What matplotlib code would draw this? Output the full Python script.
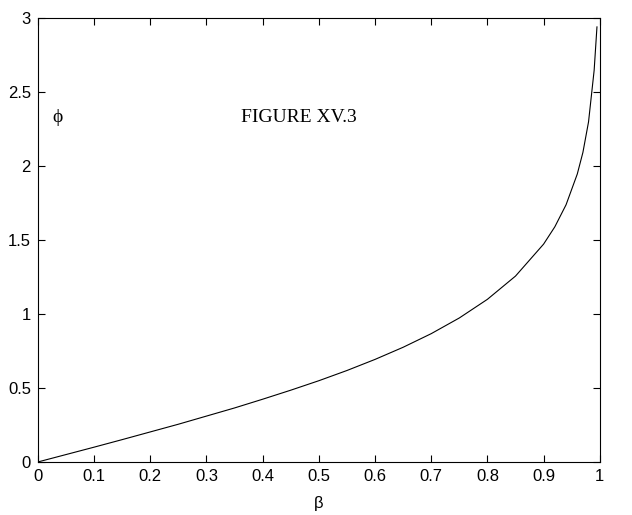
import matplotlib.pyplot as plt

# values
beta = [0, 0.05, 0.1, 0.15, 0.2, 0.25, 0.3, 0.35, 0.4, 0.45, 0.5, 0.55, 0.6,
        0.65, 0.7, 0.75, 0.8, 0.85, 0.9, 0.92, 0.94, 0.96, 0.97, 0.98, 0.99, 0.995]
phi = [0, 0.050, 0.100, 0.151, 0.203, 0.255, 0.310, 0.365, 0.424, 0.485, 0.549,
       0.618, 0.693, 0.775, 0.867, 0.973, 1.099, 1.256, 1.472, 1.589, 1.738,
       1.946, 2.092, 2.298, 2.647, 2.94]

xticks = [0, 0.1, 0.2, 0.3, 0.4, 0.5, 0.6, 0.7, 0.8, 0.9, 1]
xticklabels = ['0', '0.1', '0.2', '0.3', '0.4', '0.5', '0.6', '0.7', '0.8', '0.9', '1']
yticks = [0, 0.5, 1, 1.5, 2, 2.5, 3]
yticklabels = ['0', '0.5', '1', '1.5', '2', '2.5', '3']

fig = plt.figure(figsize=(6.32, 5.15), dpi=100)
ax = fig.add_axes([0.060, 0.103, 0.889, 0.862])
ax.plot(beta, phi, color='black', linewidth=0.8)

ax.set_xlim(0, 1)
ax.set_ylim(0, 3)
ax.set_xticks(xticks)
ax.set_xticklabels(xticklabels, family='Liberation Sans', fontsize=12)
ax.set_yticks(yticks)
ax.set_yticklabels(yticklabels, family='Liberation Sans', fontsize=12)
ax.tick_params(direction='in', top=True, right=True, length=5, width=0.8)
ax.tick_params(axis='x', pad=5)
ax.tick_params(axis='y', pad=5)
for s in ax.spines.values():
    s.set_linewidth(0.8)

ax.text(0.361, 2.33, 'FIGURE XV.3', family='Liberation Serif', fontsize=14,
        va='center', ha='left')
ax.text(0.026, 2.33, 'ϕ', family='Liberation Serif', fontsize=14,
        va='center', ha='left')
ax.set_xlabel('β', family='Liberation Sans', fontsize=12, labelpad=9)

fig.savefig('out.png', dpi=100)
